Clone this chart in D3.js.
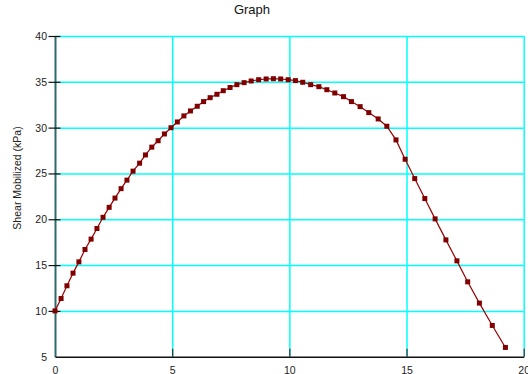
<!DOCTYPE html>
<html>
<head>
<meta charset="utf-8">
<script src="https://cdn.jsdelivr.net/npm/d3@7"></script>
<style>
  html, body { margin: 0; padding: 0; background: #ffffff; }
  svg { display: block; font-family: "Liberation Sans", Arial, sans-serif; }
</style>
</head>
<body>
<svg id="chart" width="528" height="374"></svg>
<script>
// Distance along the slip surface and the shear mobilized at each point
const distance = [
  0.00, 0.26, 0.51, 0.77, 1.02, 1.28, 1.54, 1.79, 2.05, 2.31,
  2.56, 2.82, 3.07, 3.33, 3.61, 3.86, 4.13, 4.40, 4.67, 4.95,
  5.22, 5.50, 5.78, 6.07, 6.34, 6.62, 6.91, 7.18, 7.47, 7.76,
  8.07, 8.37, 8.69, 9.01, 9.32, 9.63, 9.95, 10.26, 10.57, 10.91,
  11.26, 11.60, 11.94, 12.31, 12.65, 13.02, 13.39, 13.79, 14.16, 14.55,
  14.94, 15.35, 15.78, 16.22, 16.68, 17.15, 17.61, 18.11, 18.66, 19.22
];
const shearMobilized = [
  10.00, 11.35, 12.74, 14.12, 15.35, 16.70, 17.83, 18.99, 20.21, 21.30,
  22.31, 23.34, 24.27, 25.25, 26.12, 27.02, 27.87, 28.57, 29.31, 29.99,
  30.62, 31.28, 31.82, 32.33, 32.84, 33.27, 33.64, 34.03, 34.38, 34.69,
  34.91, 35.09, 35.23, 35.31, 35.34, 35.31, 35.23, 35.13, 34.95, 34.69,
  34.47, 34.14, 33.78, 33.38, 32.84, 32.29, 31.64, 30.95, 30.15, 28.66,
  26.55, 24.44, 22.26, 20.04, 17.75, 15.46, 13.17, 10.85, 8.41, 6.01
];
const xTicks = [0, 5, 10, 15, 20];
const yTicks = [5, 10, 15, 20, 25, 30, 35, 40];
const chartTitle = "Graph";
const yTitle = "Shear Mobilized (kPa)";

const svg = d3.select("#chart");
const plotLeft = 55, plotRight = 523.7, plotTop = 36, plotBottom = 356.7;

const x = d3.scaleLinear().domain([0, 20]).range([plotLeft, plotRight]);
const y = d3.scaleLinear().domain([5, 40]).range([plotBottom, plotTop]);

// Title
svg.append("text")
  .attr("x", 252).attr("y", 14)
  .attr("text-anchor", "middle")
  .attr("font-size", 13)
  .attr("fill", "#111")
  .text(chartTitle);

// Grid
const grid = svg.append("g").attr("class", "grid");
grid.append("g")
  .attr("transform", `translate(0,${plotBottom})`)
  .call(d3.axisBottom(x).tickValues(xTicks.slice(1)).tickSize(-(plotBottom - plotTop)).tickFormat(""))
  .call(g => g.select(".domain").remove())
  .call(g => g.selectAll("line").attr("stroke", "#00ffff").attr("stroke-width", 1.5));
grid.append("g")
  .attr("transform", `translate(${plotLeft},0)`)
  .call(d3.axisLeft(y).tickValues(yTicks.slice(1)).tickSize(-(plotRight - plotLeft)).tickFormat(""))
  .call(g => g.select(".domain").remove())
  .call(g => g.selectAll("line").attr("stroke", "#00ffff").attr("stroke-width", 1.5));

// Y axis
const yAxis = svg.append("g")
  .attr("transform", `translate(${plotLeft},0)`)
  .call(d3.axisLeft(y).tickValues(yTicks).tickSize(6).tickPadding(2).tickSizeOuter(0));
yAxis.select(".domain").attr("stroke", "#2f6a6a").attr("stroke-width", 2);
yAxis.selectAll(".tick line").attr("x1", 5.5).attr("x2", -6.5).attr("stroke", "#111").attr("stroke-width", 1.2);
yAxis.selectAll(".tick text")
  .attr("font-size", 10.5).attr("fill", "#222")
  .attr("font-family", "Liberation Sans, Arial, sans-serif");
yAxis.selectAll(".tick").filter(d => d === 5).select("line").remove();

// X axis
const xAxis = svg.append("g")
  .attr("transform", `translate(0,${plotBottom})`)
  .call(d3.axisBottom(x).tickValues(xTicks).tickSize(0).tickPadding(10).tickSizeOuter(0));
xAxis.select(".domain").attr("stroke", "#111").attr("stroke-width", 1.5);
xAxis.selectAll(".tick line").attr("y1", 0).attr("y2", -8).attr("stroke", "#333").attr("stroke-width", 1.2);
xAxis.selectAll(".tick").filter(d => d === 0).select("line").remove();
xAxis.selectAll(".tick text")
  .attr("font-size", 10.5).attr("fill", "#222")
  .attr("font-family", "Liberation Sans, Arial, sans-serif");

// Y axis title
svg.append("text")
  .attr("transform", "translate(21,178) rotate(-90)")
  .attr("text-anchor", "middle")
  .attr("font-size", 10.5)
  .attr("fill", "#222")
  .text(yTitle);

// Series line and markers
const pts = distance.map((d, i) => [d, shearMobilized[i]]);
svg.append("path")
  .datum(pts)
  .attr("fill", "none")
  .attr("stroke", "#990000")
  .attr("stroke-width", 1.2)
  .attr("d", d3.line().x(d => x(d[0])).y(d => y(d[1])));

svg.append("g").selectAll("rect")
  .data(pts)
  .join("rect")
  .attr("x", d => x(d[0]) - 2.5)
  .attr("y", d => y(d[1]) - 2.5)
  .attr("width", 5).attr("height", 5)
  .attr("fill", "#800000");
</script>
</body>
</html>
